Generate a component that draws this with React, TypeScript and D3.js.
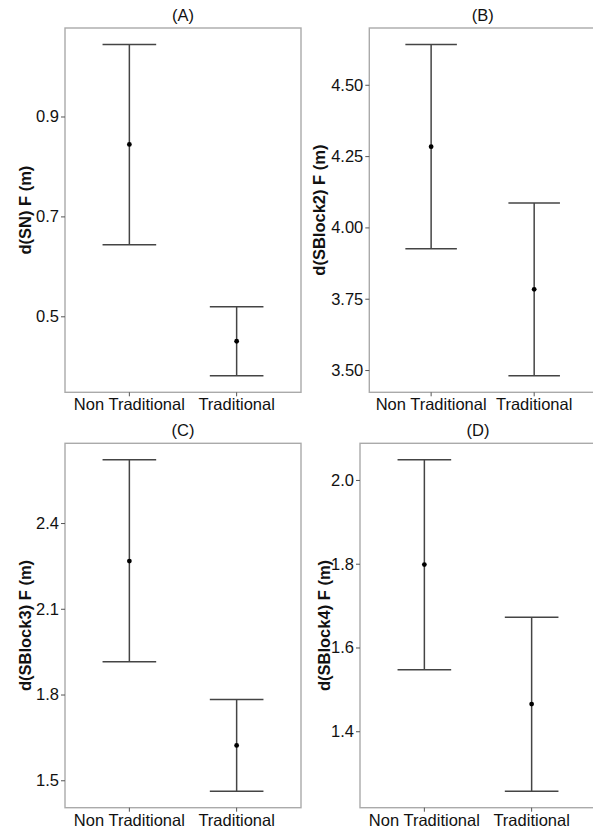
import { useEffect, useRef } from "react";
import * as d3 from "d3";

// categories on the x axis
const groups = ["Non Traditional", "Traditional"];

// one entry per panel
const titles = ["(A)", "(B)", "(C)", "(D)"];
const yLabels = ["d(SN) F (m)", "d(SBlock2) F (m)", "d(SBlock3) F (m)", "d(SBlock4) F (m)"];
const means = [
	[0.844, 0.45],
	[4.283, 3.783],
	[2.267, 1.622],
	[1.798, 1.465],
];
const lowers = [
	[0.643, 0.381],
	[3.925, 3.48],
	[1.915, 1.462],
	[1.547, 1.257],
];
const uppers = [
	[1.044, 0.519],
	[4.641, 4.086],
	[2.621, 1.783],
	[2.048, 1.672],
];
const yTicks = [
	[0.5, 0.7, 0.9],
	[3.5, 3.75, 4.0, 4.25, 4.5],
	[1.5, 1.8, 2.1, 2.4],
	[1.4, 1.6, 1.8, 2.0],
];
const tickFormats = [".1f", ".2f", ".1f", ".1f"];

// panel boxes [left, right, top, bottom]
const boxes = [
	[65, 301, 28, 392.3],
	[369.3, 596, 28, 392.3],
	[65, 301, 443.3, 807.7],
	[360, 596, 443.3, 807.7],
];
const yTitleX = [31, 325, 31, 330];

const font = "'Liberation Sans', Arial, sans-serif";
const fontSize = 16.5;

const Panel = ({ i }: { i: number }) => {
	const axisRef = useRef<SVGGElement>(null);
	const [left, right, top, bottom] = boxes[i];

	const lo = d3.min(lowers[i]) as number;
	const hi = d3.max(uppers[i]) as number;
	const pad = (hi - lo) * 0.05;

	const yScale = d3.scaleLinear().domain([lo - pad, hi + pad]).range([bottom, top]);
	const xScale = d3.scalePoint().domain(groups).range([left, right]).padding(0.6);
	const capHalf = xScale.step() * 0.25;

	useEffect(() => {
		const g = d3.select(axisRef.current);
		g.call(
			d3
				.axisLeft(yScale)
				.tickValues(yTicks[i])
				.tickFormat(d3.format(tickFormats[i]))
				.tickSize(4)
				.tickPadding(2)
		);
		g.select(".domain").remove();
		g.selectAll(".tick line").attr("stroke", "#555").attr("stroke-width", 1);
		g.selectAll(".tick text")
			.attr("fill", "#111")
			.style("font-family", font)
			.style("font-size", `${fontSize}px`);
	});

	const midY = (top + bottom) / 2;

	return (
		<g>
			<rect
				x={left}
				y={top}
				width={right - left}
				height={bottom - top}
				fill="white"
				stroke="#aaa"
				strokeWidth={1.4}
			/>
			<g ref={axisRef} transform={`translate(${left},0)`} />
			{groups.map((grp, j) => {
				const x = xScale(grp) as number;
				return (
					<g key={grp}>
						<line x1={x} x2={x} y1={bottom} y2={bottom + 4} stroke="#555" />
						<text
							x={x}
							y={bottom + 18}
							textAnchor="middle"
							fontFamily={font}
							fontSize={fontSize}
							fill="#111"
						>
							{grp}
						</text>
						<g stroke="#444" strokeWidth={1.5} fill="none">
							<line x1={x} x2={x} y1={yScale(lowers[i][j])} y2={yScale(uppers[i][j])} />
							<line
								x1={x - capHalf}
								x2={x + capHalf}
								y1={yScale(uppers[i][j])}
								y2={yScale(uppers[i][j])}
							/>
							<line
								x1={x - capHalf}
								x2={x + capHalf}
								y1={yScale(lowers[i][j])}
								y2={yScale(lowers[i][j])}
							/>
						</g>
						<circle cx={x} cy={yScale(means[i][j])} r={2.4} fill="black" />
					</g>
				);
			})}
			<text
				x={(left + right) / 2}
				y={top - 7.5}
				textAnchor="middle"
				fontFamily={font}
				fontSize={fontSize}
				fill="#111"
			>
				{titles[i]}
			</text>
			<text
				transform={`translate(${yTitleX[i]},${midY}) rotate(-90)`}
				textAnchor="middle"
				fontFamily={font}
				fontSize={fontSize}
				fontWeight="bold"
				fill="#111"
			>
				{yLabels[i]}
			</text>
		</g>
	);
};

export default function App() {
	return (
		<svg
			width={593}
			height={828}
			viewBox="0 0 593 828"
			style={{ position: "absolute", left: 0, top: 0, background: "white" }}
		>
			{titles.map((t, i) => (
				<Panel key={t} i={i} />
			))}
		</svg>
	);
}
